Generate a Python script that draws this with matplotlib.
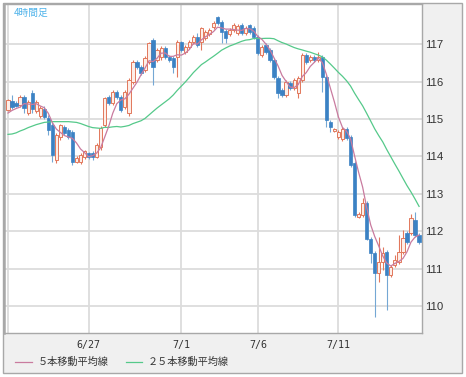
import matplotlib
matplotlib.use("Agg")
import matplotlib.pyplot as plt
import numpy as np
import pandas as pd
from matplotlib.patches import Rectangle
from matplotlib.lines import Line2D

plt.rcParams['font.family'] = ['Liberation Sans', 'Noto Sans CJK JP', 'DejaVu Sans']

# 4-hour candles, oldest first
opens = [115.24, 115.48, 115.43, 115.37, 115.59, 115.16, 115.70, 115.21, 115.08, 115.27,
         115.03, 114.84, 113.90, 114.52, 114.79, 114.71, 114.65, 113.85, 113.85, 113.98,
         114.09, 114.09, 113.98, 114.25, 114.84, 115.59, 115.43, 115.72, 115.59, 115.32,
         115.16, 115.99, 116.52, 116.39, 116.31, 116.52, 117.11, 116.58, 116.66, 116.90,
         116.66, 116.63, 116.66, 117.06, 116.79, 116.93, 117.06, 117.19, 117.06, 117.17,
         117.27, 117.46, 117.73, 117.59, 117.35, 117.27, 117.38, 117.30, 117.51, 117.30,
         117.51, 117.43, 117.19, 116.71, 116.98, 116.85, 116.58, 116.10, 115.78, 115.64,
         115.96, 115.83, 115.70, 116.04, 116.71, 116.58, 116.66, 116.58, 116.66, 116.12,
         114.92, 114.68, 114.52, 114.47, 114.73, 114.52, 113.82, 112.38, 112.43, 112.75,
         111.79, 111.42, 110.88, 111.18, 111.44, 110.83, 111.10, 111.18, 111.44, 111.95,
         111.95, 112.30, 111.90]
highs = [115.53, 115.64, 115.48, 115.64, 115.64, 115.51, 115.78, 115.51, 115.35, 115.35,
         115.11, 114.92, 114.63, 114.87, 114.84, 114.76, 114.71, 114.01, 114.09, 114.17,
         114.12, 114.14, 114.36, 114.81, 115.59, 115.64, 115.78, 115.78, 115.64, 115.78,
         116.10, 116.58, 116.58, 116.44, 116.69, 117.06, 117.17, 116.90, 116.95, 116.95,
         116.71, 116.69, 117.11, 117.09, 116.98, 117.11, 117.25, 117.30, 117.46, 117.38,
         117.43, 117.62, 117.75, 117.65, 117.41, 117.43, 117.57, 117.54, 117.57, 117.49,
         117.54, 117.49, 117.25, 116.98, 117.03, 116.90, 116.63, 116.15, 115.83, 116.04,
         116.02, 116.10, 116.15, 116.77, 116.77, 116.71, 116.71, 116.79, 116.71, 116.18,
         114.97, 114.76, 114.71, 114.79, 114.79, 114.57, 113.88, 112.51, 112.89, 112.81,
         111.85, 111.47, 111.85, 111.58, 111.50, 111.10, 111.36, 111.90, 112.03, 112.01,
         112.46, 112.51, 111.95]
lows = [115.21, 115.27, 115.32, 115.32, 115.16, 115.11, 115.16, 115.16, 115.03, 115.00,
        114.57, 113.85, 113.82, 114.44, 114.57, 114.47, 113.77, 113.82, 113.80, 113.93,
        113.93, 113.90, 113.96, 114.17, 114.79, 115.37, 115.37, 115.53, 115.19, 115.27,
        115.08, 115.94, 116.34, 116.18, 116.26, 116.47, 115.91, 116.52, 116.58, 116.60,
        116.52, 116.23, 116.12, 116.79, 116.74, 116.87, 117.01, 116.93, 116.85, 117.11,
        117.22, 117.41, 117.51, 117.03, 117.03, 117.22, 117.33, 117.25, 117.25, 117.25,
        117.27, 117.14, 116.71, 116.66, 116.74, 116.52, 116.07, 115.56, 115.59, 115.59,
        115.78, 115.78, 115.56, 115.99, 116.47, 116.52, 116.52, 116.52, 115.72, 114.79,
        114.65, 114.65, 114.47, 114.41, 114.44, 113.72, 112.38, 112.35, 112.38, 111.77,
        111.15, 109.71, 110.64, 110.96, 109.89, 110.78, 111.04, 111.12, 111.39, 111.66,
        111.90, 111.85, 111.66]
closes = [115.51, 115.32, 115.35, 115.59, 115.29, 115.45, 115.27, 115.45, 115.29, 115.05,
          114.71, 114.04, 114.57, 114.84, 114.63, 114.52, 113.85, 113.96, 114.04, 114.14,
          113.98, 113.98, 114.31, 114.76, 115.56, 115.43, 115.72, 115.59, 115.24, 115.72,
          116.04, 116.52, 116.39, 116.23, 116.63, 117.03, 116.39, 116.85, 116.90, 116.66,
          116.58, 116.39, 117.06, 116.85, 116.93, 117.06, 117.19, 116.98, 117.43, 117.33,
          117.38, 117.57, 117.57, 117.33, 117.17, 117.38, 117.51, 117.49, 117.30, 117.43,
          117.33, 117.19, 116.77, 116.93, 116.79, 116.58, 116.12, 115.70, 115.64, 115.99,
          115.83, 116.04, 116.10, 116.71, 116.52, 116.66, 116.58, 116.66, 116.12, 114.97,
          114.79, 114.73, 114.65, 114.73, 114.49, 113.77, 112.43, 112.46, 112.75, 111.79,
          111.42, 110.88, 111.18, 111.42, 110.83, 111.04, 111.23, 111.44, 111.82, 111.71,
          112.35, 111.90, 111.71]

# averages at the left edge (need bars from before the window)
ma5_lead = [115.16, 115.23, 115.28, 115.32]
ma25_lead = [114.59, 114.60, 114.63, 114.68, 114.72, 114.77, 114.81, 114.85, 114.88, 114.91,
             114.92, 114.93, 114.93, 114.93, 114.93, 114.93, 114.92, 114.91, 114.88, 114.84,
             114.80, 114.77, 114.76, 114.75]

date_pos = [0, 20, 43, 62, 82]
date_labels = ['', '6/27', '7/1', '7/6', '7/11']
price_ticks = [110, 111, 112, 113, 114, 115, 116, 117]
legend_labels = ['５本移動平均線', '２５本移動平均線']

up_edge = '#e2785c'
up_face = '#fdeee8'
dn_col = '#3b82c4'
dn_wick = '#74a7d4'
ma5_col = '#c97b9f'
ma25_col = '#55c98a'

o = np.array(opens); h = np.array(highs); l = np.array(lows); c = np.array(closes)
x = np.arange(len(c))
s = pd.Series(c)
ma5 = s.rolling(5).mean().to_numpy()
ma5[:4] = ma5_lead
ma25 = s.rolling(25).mean().to_numpy()
ma25[:24] = ma25_lead

W, H = 466, 377
def fx(px): return px / W
def fy(py): return 1 - py / H

fig = plt.figure(figsize=(W / 100, H / 100), dpi=100)
fig.add_artist(Rectangle((fx(3), fy(373)), (462 - 3) / W, (373 - 3) / H,
                         transform=fig.transFigure, facecolor='#f0f0f0',
                         edgecolor='#a8a8a8', lw=1.0, zorder=-5))
ax = fig.add_axes([fx(4), fy(333), (422 - 4) / W, (333 - 4) / H])
ax.set_facecolor('white')

up = c >= o
ax.vlines(x[up], l[up], h[up], color=up_edge, lw=0.8, zorder=2)
ax.vlines(x[~up], l[~up], h[~up], color=dn_wick, lw=0.8, zorder=2)
ax.bar(x[up], (c - o)[up], bottom=o[up], width=0.8, facecolor=up_face,
       edgecolor=up_edge, lw=0.7, zorder=3)
ax.bar(x[~up], (o - c)[~up], bottom=c[~up], width=0.8, color=dn_col,
       edgecolor=dn_col, lw=0.5, zorder=3)

ax.plot(x, ma25, color=ma25_col, lw=0.9, zorder=4)
ax.plot(x, ma5, color=ma5_col, lw=0.9, zorder=4)

ax.set_xlim(-0.99, 102.73)
ax.set_ylim(109.28, 118.075)
ax.set_yticks(price_ticks)
ax.yaxis.tick_right()
ax.tick_params(axis='y', length=0, pad=2, labelsize=8.2, labelcolor='#333333')
ax.set_xticks(date_pos)
ax.set_xticklabels(date_labels, fontfamily='DejaVu Sans Mono', fontsize=7.2, color='#333333')
ax.tick_params(axis='x', length=0, pad=5)
ax.grid(True, color='#dcdcdc', lw=1.3)
ax.set_axisbelow(True)
for sp in ax.spines.values():
    sp.set_color('#a8a8a8')
    sp.set_linewidth(1.0)
ax.spines['left'].set_linewidth(1.8)

fig.text(fx(14), fy(13), '4時間足', color='#4fb3ea', fontsize=7, va='center',
         family=['Noto Sans CJK JP', 'DejaVu Sans'])

fig.add_artist(Line2D([fx(15), fx(32)], [fy(362), fy(362)], transform=fig.transFigure,
                      color=ma5_col, lw=0.9))
fig.text(fx(38), fy(362), legend_labels[0], va='center', fontsize=7.3, color='#333333',
         family=['Noto Sans CJK JP', 'DejaVu Sans'])
fig.add_artist(Line2D([fx(126), fx(142)], [fy(362), fy(362)], transform=fig.transFigure,
                      color=ma25_col, lw=0.9))
fig.text(fx(148), fy(362), legend_labels[1], va='center', fontsize=7.3, color='#333333',
         family=['Noto Sans CJK JP', 'DejaVu Sans'])

fig.savefig('out.png', dpi=100)
